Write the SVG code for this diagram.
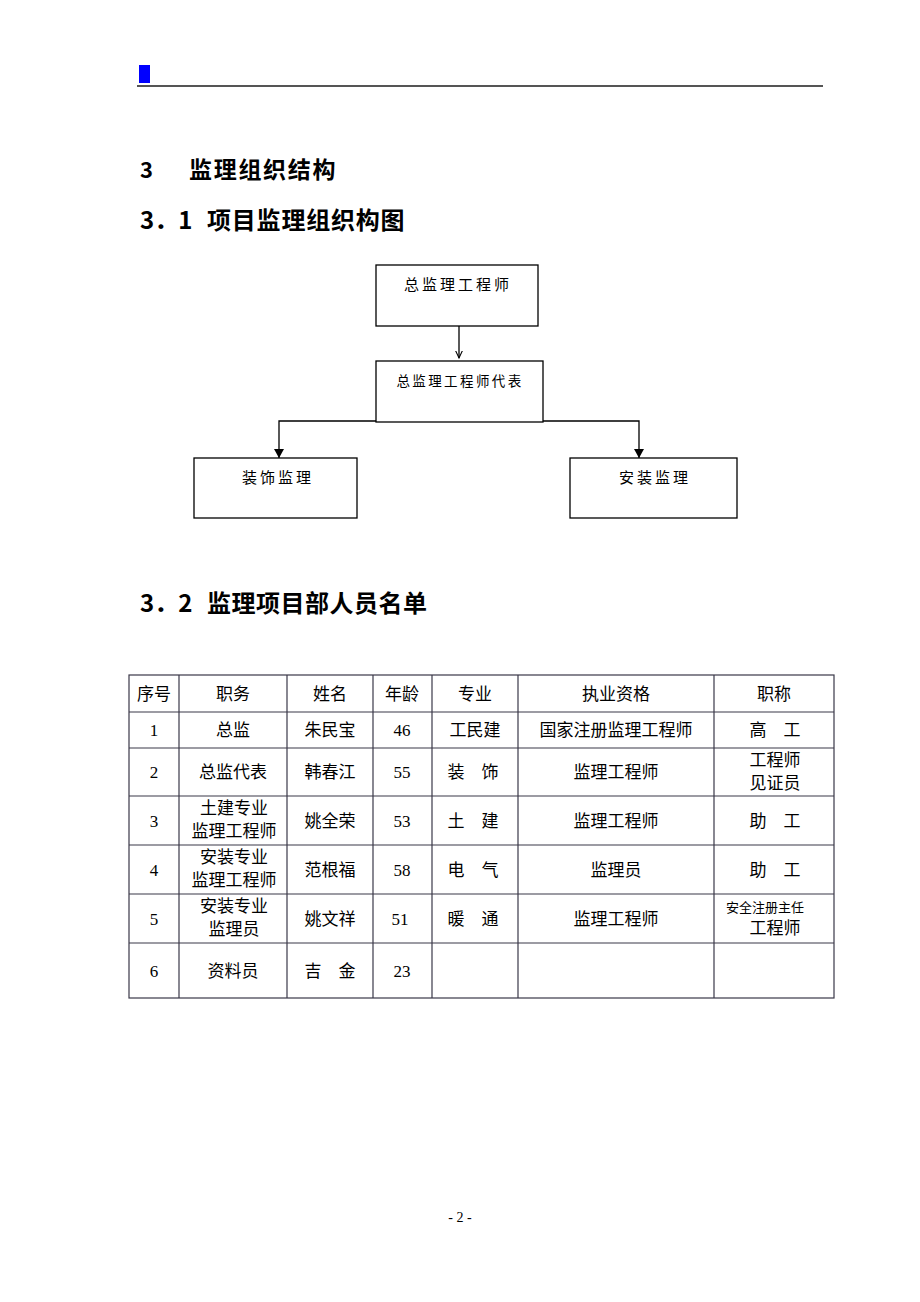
<svg xmlns="http://www.w3.org/2000/svg" width="920" height="1302" viewBox="0 0 920 1302">
<style>
.h{font-family:"Noto Sans CJK SC","Liberation Sans",sans-serif;font-weight:bold;fill:#000}
.box{fill:#fff;stroke:#000;stroke-width:1.3}
.bt{font-family:"Liberation Serif","Noto Sans CJK SC",serif;font-size:15px;letter-spacing:3px;fill:#000;text-anchor:middle}
.con{fill:none;stroke:#000;stroke-width:1.3}
.tl{stroke:#3a3848;stroke-width:1.2;fill:none}
.th{font-family:"Noto Sans CJK SC","Liberation Sans",sans-serif;font-size:17px;fill:#000;text-anchor:middle}
.td{font-family:"Liberation Serif","Noto Sans CJK SC",serif;font-size:17px;fill:#000;text-anchor:middle}
.ts{font-family:"Liberation Serif","Noto Sans CJK SC",serif;font-size:13px;fill:#000;text-anchor:middle}
</style>
<defs>
<marker id="aThin" markerWidth="9" markerHeight="9" refX="7.5" refY="4" orient="auto" markerUnits="userSpaceOnUse"><path d="M0,0.5 L7.5,4 L0,7.5" fill="none" stroke="#000" stroke-width="1.1"/></marker>
<marker id="aBold" markerWidth="11" markerHeight="12" refX="9" refY="5.5" orient="auto" markerUnits="userSpaceOnUse"><path d="M0,0.5 L9,5.5 L0,10.5 Z" fill="#000"/></marker>
</defs>

<g id="page-header">
<rect x="139" y="65" width="11" height="18" fill="#0000ff"/>
<line x1="137" y1="86" x2="823" y2="86" stroke="#555" stroke-width="2"/>
</g>

<g id="headings">
<text class="h" x="140" y="178" font-size="22">3</text>
<text class="h" x="189" y="178" font-size="23" letter-spacing="1.7">监理组织结构</text>
<text class="h" x="140" y="229" font-size="24">3．1</text>
<text class="h" x="207" y="229" font-size="24" letter-spacing="0.8">项目监理组织构图</text>
<text class="h" x="140" y="612" font-size="24">3．2</text>
<text class="h" x="207" y="612" font-size="24" letter-spacing="0.5">监理项目部人员名单</text>
</g>

<g id="connectors">
<line class="con" x1="459" y1="326" x2="459" y2="358" marker-end="url(#aThin)" stroke-width="1.1"/>
<polyline class="con" points="376,421 279,421 279,458" marker-end="url(#aBold)"/>
<polyline class="con" points="543,421 639,421 639,458" marker-end="url(#aBold)"/>
</g>

<g id="node-chief">
<rect class="box" x="376" y="265" width="162" height="61"/>
<text class="bt" x="458" y="290">总监理工程师</text>
</g>
<g id="node-deputy">
<rect class="box" x="376" y="361" width="167" height="61"/>
<text class="bt" x="460" y="386" style="font-size:13.5px;letter-spacing:2.4px">总监理工程师代表</text>
</g>
<g id="node-decoration">
<rect class="box" x="194" y="458" width="163" height="60"/>
<text class="bt" x="278" y="483">装饰监理</text>
</g>
<g id="node-install">
<rect class="box" x="570" y="458" width="167" height="60"/>
<text class="bt" x="655" y="483">安装监理</text>
</g>

<g id="staff-table">
<rect class="tl" x="129" y="675" width="705" height="323" stroke-width="1.6"/>
<line class="tl" x1="129" y1="712" x2="834" y2="712"/>
<line class="tl" x1="129" y1="748" x2="834" y2="748"/>
<line class="tl" x1="129" y1="796" x2="834" y2="796"/>
<line class="tl" x1="129" y1="845" x2="834" y2="845"/>
<line class="tl" x1="129" y1="894" x2="834" y2="894"/>
<line class="tl" x1="129" y1="943" x2="834" y2="943"/>
<line class="tl" x1="179" y1="675" x2="179" y2="998"/>
<line class="tl" x1="287" y1="675" x2="287" y2="998"/>
<line class="tl" x1="373" y1="675" x2="373" y2="998"/>
<line class="tl" x1="432" y1="675" x2="432" y2="998"/>
<line class="tl" x1="518" y1="675" x2="518" y2="998"/>
<line class="tl" x1="714" y1="675" x2="714" y2="998"/>

<text class="th" x="154" y="700">序号</text>
<text class="th" x="233" y="700">职务</text>
<text class="th" x="330" y="700">姓名</text>
<text class="th" x="402" y="700">年龄</text>
<text class="th" x="475" y="700">专业</text>
<text class="th" x="616" y="700">执业资格</text>
<text class="th" x="774" y="700">职称</text>

<text class="td" x="154" y="736">1</text>
<text class="td" x="233" y="736">总监</text>
<text class="td" x="330" y="736">朱民宝</text>
<text class="td" x="402" y="736">46</text>
<text class="td" x="475" y="736">工民建</text>
<text class="td" x="616" y="736">国家注册监理工程师</text>
<text class="td" x="775" y="736">高　工</text>

<text class="td" x="154" y="778">2</text>
<text class="td" x="233" y="778">总监代表</text>
<text class="td" x="330" y="778">韩春江</text>
<text class="td" x="402" y="778">55</text>
<text class="td" x="473" y="778">装　饰</text>
<text class="td" x="616" y="778">监理工程师</text>
<text class="td" x="775" y="766">工程师</text>
<text class="td" x="775" y="789">见证员</text>

<text class="td" x="154" y="827">3</text>
<text class="td" x="234" y="814">土建专业</text>
<text class="td" x="234" y="837">监理工程师</text>
<text class="td" x="330" y="827">姚全荣</text>
<text class="td" x="402" y="827">53</text>
<text class="td" x="473" y="827">土　建</text>
<text class="td" x="616" y="827">监理工程师</text>
<text class="td" x="775" y="827">助　工</text>

<text class="td" x="154" y="876">4</text>
<text class="td" x="234" y="863">安装专业</text>
<text class="td" x="234" y="886">监理工程师</text>
<text class="td" x="330" y="876">范根福</text>
<text class="td" x="402" y="876">58</text>
<text class="td" x="473" y="876">电　气</text>
<text class="td" x="616" y="876">监理员</text>
<text class="td" x="775" y="876">助　工</text>

<text class="td" x="154" y="925">5</text>
<text class="td" x="234" y="912">安装专业</text>
<text class="td" x="234" y="935">监理员</text>
<text class="td" x="330" y="925">姚文祥</text>
<text class="td" x="400" y="925">51</text>
<text class="td" x="473" y="925">暖　通</text>
<text class="td" x="616" y="925">监理工程师</text>
<text class="ts" x="765" y="912">安全注册主任</text>
<text class="td" x="775" y="934">工程师</text>

<text class="td" x="154" y="977">6</text>
<text class="td" x="233" y="977">资料员</text>
<text class="td" x="330" y="977">吉　金</text>
<text class="td" x="402" y="977">23</text>
</g>

<g id="page-number">
<text x="460" y="1222" font-family="Liberation Serif, serif" font-size="14" text-anchor="middle">- 2 -</text>
</g>
</svg>
